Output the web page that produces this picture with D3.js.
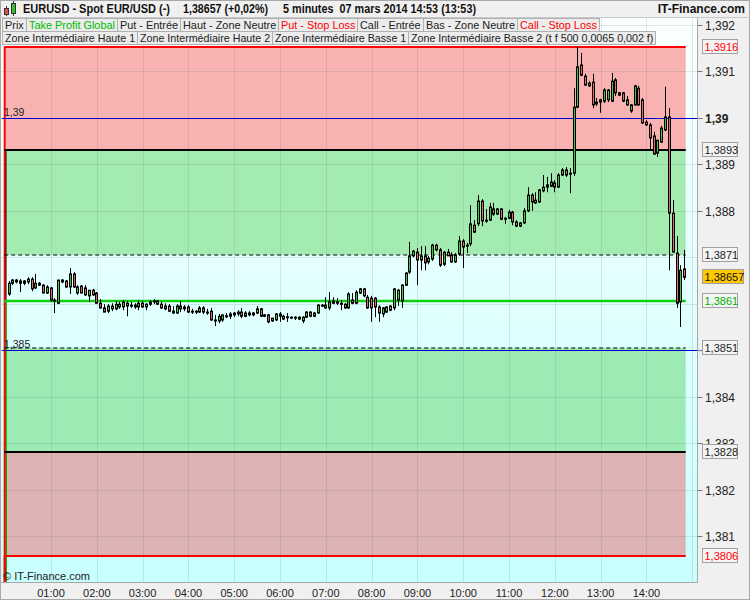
<!DOCTYPE html>
<html><head><meta charset="utf-8">
<script src="https://cdn.jsdelivr.net/npm/d3@7"></script>
<style>body{margin:0;background:#f0f0f0}svg{display:block;font-family:"Liberation Sans",Arial,sans-serif}</style>
</head><body><svg id="c" width="750" height="600"></svg>
<script>
// ---------------- DATA ----------------
const titleParts = ["EURUSD - Spot EUR/USD (-)", "1,38657 (+0,02%)", "5 minutes  07 mars 2014 14:53 (13:53)", "IT-Finance.com"];
const legendRow1 = ["Prix","Take Profit Global","Put - Entrée","Haut - Zone Neutre","Put - Stop Loss","Call - Entrée","Bas - Zone Neutre","Call - Stop Loss"];
const legendRow2 = ["Zone Intermédiaire Haute 1","Zone Intermédiaire Haute 2","Zone Intermédiaire Basse 1","Zone Intermédiaire Basse 2 (t f 500 0,0065 0,002 f)"];
const hourLabels = ["01:00","02:00","03:00","04:00","05:00","06:00","07:00","08:00","09:00","10:00","11:00","12:00","13:00","14:00"];
const yTicks = [1.392,1.391,1.390,1.389,1.388,1.387,1.386,1.385,1.384,1.383,1.382,1.381];
const yTickLabels = ["1,392","1,391","1,39","1,389","1,388","1,387","1,386","1,385","1,384","1,383","1,382","1,381"];
const yTickShown = [true,true,true,true,true,false,false,false,true,true,true,true];
const levelValues = [1.39153, 1.3893, 1.38705, 1.38605, 1.38505, 1.3828, 1.38058];
const levelLabels = ["1,3916","1,3893","1,3871","1,3861","1,3851","1,3828","1,3806"];
const refLines = [1.39, 1.385];
const refLabels = ["1,39","1,385"];
const lastPrice = 1.38657;
const lastLabel = "1,38657";
const barMinutes = 5;
const open = [1.38621,1.38644,1.38651,1.38649,1.38644,1.38647,1.38653,1.38634,1.38644,1.38640,
1.38623,1.38634,1.38606,1.38601,1.38647,1.38649,1.38636,1.38664,1.38623,1.38638,
1.38634,1.38617,1.38629,1.38623,1.38601,1.38591,1.38584,1.38595,1.38589,1.38599,
1.38593,1.38601,1.38595,1.38597,1.38593,1.38601,1.38593,1.38599,1.38604,1.38606,
1.38599,1.38595,1.38595,1.38584,1.38580,1.38595,1.38589,1.38593,1.38584,1.38582,
1.38582,1.38591,1.38582,1.38584,1.38565,1.38563,1.38565,1.38573,1.38573,1.38576,
1.38578,1.38582,1.38573,1.38580,1.38576,1.38580,1.38589,1.38576,1.38576,1.38563,
1.38565,1.38578,1.38573,1.38571,1.38571,1.38569,1.38571,1.38563,1.38571,1.38582,
1.38573,1.38580,1.38597,1.38597,1.38591,1.38606,1.38604,1.38601,1.38599,1.38591,
1.38608,1.38601,1.38623,1.38632,1.38614,1.38612,1.38612,1.38593,1.38578,1.38582,
1.38595,1.38591,1.38608,1.38606,1.38640,1.38668,1.38703,1.38711,1.38694,1.38703,
1.38690,1.38696,1.38726,1.38716,1.38685,1.38711,1.38705,1.38690,1.38707,1.38735,
1.38726,1.38729,1.38769,1.38772,1.38821,1.38780,1.38780,1.38804,1.38793,1.38804,
1.38784,1.38784,1.38797,1.38776,1.38767,1.38774,1.38800,1.38834,1.38817,1.38819,
1.38843,1.38851,1.38853,1.38860,1.38851,1.38877,1.38888,1.38879,1.38881,1.39023,
1.39114,1.39090,1.39069,1.39077,1.39034,1.39034,1.39036,1.39039,1.39036,1.39082,
1.39054,1.39054,1.39028,1.39015,1.39028,1.39064,1.39039,1.38991,1.38985,1.38961,
1.38924,1.38948,1.38974,1.39002,1.38795,1.38709,1.38604,1.38675];
const high = [1.38649,1.38653,1.38653,1.38653,1.38651,1.38657,1.38657,1.38664,1.38647,1.38642,
1.38640,1.38636,1.38612,1.38651,1.38653,1.38651,1.38677,1.38668,1.38640,1.38640,
1.38640,1.38629,1.38632,1.38625,1.38610,1.38599,1.38599,1.38601,1.38606,1.38604,
1.38608,1.38606,1.38604,1.38601,1.38608,1.38606,1.38601,1.38608,1.38610,1.38608,
1.38604,1.38601,1.38599,1.38595,1.38599,1.38606,1.38597,1.38597,1.38589,1.38586,
1.38595,1.38595,1.38589,1.38591,1.38576,1.38578,1.38576,1.38580,1.38582,1.38582,
1.38586,1.38591,1.38584,1.38584,1.38582,1.38595,1.38591,1.38578,1.38578,1.38569,
1.38580,1.38582,1.38576,1.38580,1.38573,1.38573,1.38573,1.38573,1.38584,1.38584,
1.38582,1.38599,1.38599,1.38614,1.38625,1.38614,1.38612,1.38608,1.38601,1.38625,
1.38623,1.38629,1.38634,1.38634,1.38619,1.38617,1.38614,1.38597,1.38593,1.38595,
1.38597,1.38634,1.38632,1.38642,1.38668,1.38733,1.38716,1.38720,1.38724,1.38724,
1.38703,1.38729,1.38729,1.38720,1.38713,1.38718,1.38711,1.38709,1.38746,1.38739,
1.38731,1.38812,1.38780,1.38834,1.38825,1.38804,1.38817,1.38817,1.38806,1.38806,
1.38787,1.38802,1.38800,1.38780,1.38776,1.38806,1.38851,1.38838,1.38840,1.38847,
1.38877,1.38873,1.38881,1.38866,1.38881,1.38892,1.38894,1.38892,1.39064,1.39153,
1.39140,1.39095,1.39079,1.39095,1.39043,1.39041,1.39064,1.39062,1.39097,1.39086,
1.39056,1.39056,1.39047,1.39030,1.39071,1.39069,1.39043,1.38995,1.38989,1.38970,
1.38931,1.38983,1.39067,1.39021,1.38823,1.38746,1.38683,1.38716];
const low = [1.38617,1.38640,1.38644,1.38625,1.38640,1.38642,1.38627,1.38632,1.38638,1.38623,
1.38621,1.38604,1.38580,1.38599,1.38644,1.38634,1.38621,1.38634,1.38619,1.38623,
1.38617,1.38604,1.38617,1.38601,1.38589,1.38582,1.38580,1.38584,1.38586,1.38589,
1.38586,1.38573,1.38591,1.38589,1.38586,1.38591,1.38586,1.38595,1.38599,1.38597,
1.38589,1.38586,1.38582,1.38578,1.38578,1.38582,1.38584,1.38580,1.38578,1.38578,
1.38580,1.38578,1.38576,1.38563,1.38552,1.38558,1.38561,1.38569,1.38567,1.38571,
1.38573,1.38569,1.38571,1.38573,1.38573,1.38578,1.38571,1.38571,1.38558,1.38561,
1.38563,1.38561,1.38565,1.38561,1.38567,1.38565,1.38565,1.38558,1.38569,1.38571,
1.38571,1.38578,1.38593,1.38589,1.38586,1.38599,1.38597,1.38586,1.38589,1.38589,
1.38599,1.38599,1.38621,1.38614,1.38589,1.38561,1.38571,1.38561,1.38571,1.38580,
1.38584,1.38586,1.38595,1.38591,1.38638,1.38664,1.38700,1.38640,1.38672,1.38672,
1.38685,1.38692,1.38713,1.38679,1.38681,1.38703,1.38688,1.38688,1.38703,1.38677,
1.38709,1.38724,1.38752,1.38767,1.38767,1.38774,1.38778,1.38789,1.38791,1.38780,
1.38772,1.38782,1.38769,1.38765,1.38765,1.38772,1.38797,1.38800,1.38815,1.38817,
1.38840,1.38840,1.38851,1.38840,1.38849,1.38875,1.38873,1.38838,1.38875,1.39021,
1.39090,1.39069,1.39067,1.39021,1.39026,1.39011,1.39032,1.39034,1.39034,1.39047,
1.39047,1.39034,1.39026,1.39011,1.39026,1.39026,1.38987,1.38983,1.38931,1.38922,
1.38916,1.38946,1.38972,1.38672,1.38711,1.38591,1.38550,1.38651];
const close = [1.38644,1.38651,1.38647,1.38644,1.38649,1.38653,1.38632,1.38644,1.38640,1.38623,
1.38636,1.38608,1.38608,1.38651,1.38651,1.38636,1.38664,1.38636,1.38636,1.38623,
1.38619,1.38629,1.38619,1.38601,1.38591,1.38582,1.38595,1.38589,1.38599,1.38593,
1.38604,1.38595,1.38597,1.38593,1.38601,1.38593,1.38599,1.38604,1.38606,1.38599,
1.38591,1.38589,1.38584,1.38580,1.38595,1.38589,1.38593,1.38582,1.38582,1.38584,
1.38591,1.38582,1.38580,1.38565,1.38563,1.38573,1.38576,1.38574,1.38578,1.38580,
1.38582,1.38573,1.38580,1.38576,1.38580,1.38589,1.38573,1.38573,1.38561,1.38569,
1.38578,1.38573,1.38567,1.38572,1.38569,1.38571,1.38567,1.38571,1.38582,1.38573,
1.38580,1.38597,1.38595,1.38591,1.38604,1.38601,1.38601,1.38599,1.38591,1.38621,
1.38601,1.38625,1.38632,1.38617,1.38591,1.38591,1.38593,1.38580,1.38591,1.38593,
1.38586,1.38632,1.38629,1.38640,1.38666,1.38703,1.38713,1.38694,1.38703,1.38688,
1.38698,1.38726,1.38716,1.38683,1.38711,1.38703,1.38690,1.38705,1.38735,1.38722,
1.38724,1.38772,1.38754,1.38821,1.38778,1.38778,1.38808,1.38793,1.38804,1.38782,
1.38782,1.38797,1.38776,1.38767,1.38774,1.38800,1.38834,1.38819,1.38823,1.38845,
1.38851,1.38856,1.38862,1.38851,1.38877,1.38888,1.38877,1.38881,1.39023,1.39110,
1.39092,1.39071,1.39075,1.39028,1.39030,1.39039,1.39060,1.39060,1.39079,1.39054,
1.39049,1.39036,1.39039,1.39028,1.39069,1.39028,1.38989,1.38985,1.38957,1.38922,
1.38952,1.38978,1.39002,1.38795,1.38711,1.38601,1.38672,1.38657];

// ---------------- LAYOUT ----------------
const svg = d3.select("#c");
const P = {l:1.5, r:697.5, t:17.5, b:582.5};
const x = d3.scaleLinear().domain([0, 900]).range([5.2, 692.2]);   // minutes since 00:00
const y = d3.scaleLinear().domain([1.381, 1.392]).range([536, 25]);
const bars = open.map((o,i)=>({t:i*barMinutes+4.5, o, h:high[i], l:low[i], c:close[i]}));
const lastX = x(bars[bars.length-1].t) + 1.5;

const defs = svg.append("defs");
const grad = defs.append("linearGradient").attr("id","bg").attr("x1",0).attr("y1",0).attr("x2",0).attr("y2",1);
grad.append("stop").attr("offset","0%").attr("stop-color","#fbffff");
grad.append("stop").attr("offset","100%").attr("stop-color","#c8ffff");
defs.append("clipPath").attr("id","pc").append("rect").attr("x",P.l).attr("y",P.t).attr("width",P.r-P.l).attr("height",P.b-P.t);

// outer frame
svg.append("rect").attr("x",0.5).attr("y",0.5).attr("width",749).attr("height",599).attr("fill","#f0f0f0").attr("stroke","#a8a8a8");
svg.append("rect").attr("x",P.l).attr("y",P.t).attr("width",P.r-P.l).attr("height",P.b-P.t).attr("fill","url(#bg)");

const g = svg.append("g").attr("clip-path","url(#pc)");

// zones between consecutive levels
const zoneFills = ["#f8b2b2","#a4ebb2",null,null,"#9cebb4","#ddb2b2"];
for (let k=0;k<levelValues.length-1;k++){
  if (!zoneFills[k]) continue;
  g.append("rect").attr("x",x(0)).attr("width",lastX-x(0))
    .attr("y",y(levelValues[k])).attr("height",y(levelValues[k+1])-y(levelValues[k]))
    .attr("fill",zoneFills[k]);
}

// grid
g.selectAll(".vg").data(d3.range(1,16)).enter().append("line")
  .attr("x1",d=>Math.round(x(d*60))+0.5).attr("x2",d=>Math.round(x(d*60))+0.5)
  .attr("y1",P.t).attr("y2",P.b).attr("stroke","rgba(90,110,110,0.17)");
g.selectAll(".hg").data(yTicks).enter().append("line")
  .attr("x1",P.l).attr("x2",P.r).attr("y1",d=>Math.round(y(d))+0.5).attr("y2",d=>Math.round(y(d))+0.5)
  .attr("stroke","rgba(90,110,110,0.17)");

// level lines
const lvlStyle = [
  {c:"#ff0000",w:2},{c:"#000",w:2},{c:"#000",w:1,d:"4,3"},{c:"#10d010",w:2.5},
  {c:"#000",w:1,d:"4,3"},{c:"#000",w:2},{c:"#ff0000",w:2}];
[1,5,3,0,6].forEach(k=>{
  const s = lvlStyle[k];
  const xx = x(0)-0.5+(k===0||k===6?0:0.8);
  g.append("line").attr("x1",xx).attr("x2",xx)
   .attr("y1",y(levelValues[k])).attr("y2",P.b).attr("stroke",s.c).attr("stroke-width",s.w);
});
levelValues.forEach((v,k)=>{
  const s = lvlStyle[k];
  g.append("line").attr("x1",x(0)-1).attr("x2",lastX).attr("y1",Math.round(y(v))).attr("y2",Math.round(y(v)))
   .attr("stroke",s.c).attr("stroke-width",s.w).attr("stroke-dasharray",s.d||null);
});

// blue reference lines
refLines.forEach((v,k)=>{
  g.append("line").attr("x1",P.l).attr("x2",P.r).attr("y1",Math.round(y(v))+0.5).attr("y2",Math.round(y(v))+0.5)
   .attr("stroke","#0000cc").attr("stroke-width",1);
  svg.append("text").attr("x",4).attr("y",Math.round(y(v))-2).attr("font-size",10.5).attr("fill","#222").text(refLabels[k]);
});

// candles
const cg = g.append("g");
bars.forEach(b=>{
  const px = Math.round(x(b.t));
  cg.append("line").attr("x1",px+0.5).attr("x2",px+0.5).attr("y1",y(b.h)).attr("y2",y(b.l)).attr("stroke","#000").attr("stroke-width",1);
  const top = y(Math.max(b.o,b.c)), bot = y(Math.min(b.o,b.c));
  cg.append("rect").attr("x",px-0.5).attr("width",2).attr("y",top).attr("height",Math.max(1,bot-top))
    .attr("fill", b.c>=b.o ? "#3cc83c" : "#e06868").attr("stroke","#000").attr("stroke-width",1);
});

// plot border
svg.append("line").attr("x1",P.r).attr("x2",P.r).attr("y1",P.t).attr("y2",P.b).attr("stroke","#a8a8a8");
svg.append("line").attr("x1",0).attr("x2",P.r).attr("y1",P.b).attr("y2",P.b).attr("stroke","#a8a8a8");
svg.append("line").attr("x1",0).attr("x2",750).attr("y1",P.t).attr("y2",P.t).attr("stroke","#c8c8c8");

// copyright
svg.append("text").attr("x",3).attr("y",580).attr("font-size",11).attr("fill","#222").text("© IT-Finance.com");

// x axis labels
svg.selectAll(".xl").data(hourLabels).enter().append("text")
  .attr("x",(d,i)=>x((i+1)*60)).attr("y",597).attr("text-anchor","middle")
  .attr("font-size",11).attr("fill","#222").text(d=>d);

// y axis ticks & labels
yTicks.forEach((v,k)=>{
  const yy = Math.round(y(v))+0.5;
  if (v!==1.387 && v!==1.386)
    svg.append("line").attr("x1",P.r).attr("x2",P.r+5).attr("y1",yy).attr("y2",yy).attr("stroke","#777");
  if(!yTickShown[k]) return;
  svg.append("text").attr("x",705).attr("y",yy+4).attr("font-size",12)
    .attr("font-weight", v===1.39 ? "bold":"normal").attr("fill","#222").text(yTickLabels[k]);
});

// level label boxes
const lblColor = ["#ff0000","#222","#222","#00b000","#222","#222","#ff0000"];
function box(v, label, col, bg, w){
  const yy = Math.round(y(v));
  svg.append("rect").attr("x",702.5).attr("y",yy-7.5).attr("width",w).attr("height",14)
    .attr("fill",bg).attr("stroke","#a0a0a0");
  svg.append("text").attr("x",704.5).attr("y",yy+4).attr("font-size",11).attr("fill",col).text(label);
}
levelValues.forEach((v,k)=>box(v, levelLabels[k], lblColor[k], "#f4f4f4", 35));
box(lastPrice, lastLabel, "#111", "#ffc800", 41);

// title
const ic = svg.append("g");
ic.append("line").attr("x1",6.5).attr("x2",6.5).attr("y1",6).attr("y2",16).attr("stroke","#333");
ic.append("rect").attr("x",4.5).attr("y",8.5).attr("width",4).attr("height",6).attr("fill","#e05050").attr("stroke","#333");
ic.append("line").attr("x1",13.5).attr("x2",13.5).attr("y1",1).attr("y2",16).attr("stroke","#333");
ic.append("rect").attr("x",11.5).attr("y",3.5).attr("width",4).attr("height",10).attr("fill","#30c030").attr("stroke","#333");
const tx = [23, 183, 283], tw = [147, 85, 193];
titleParts.slice(0,3).forEach((t,i)=>svg.append("text").attr("x",tx[i]).attr("y",13).attr("font-size",12)
  .attr("font-weight","bold").attr("fill","#111").attr("textLength",tw[i]).attr("lengthAdjust","spacingAndGlyphs")
  .style("white-space","pre").text(t));
svg.append("text").attr("x",745).attr("y",13).attr("text-anchor","end").attr("font-size",12)
  .attr("font-weight","bold").attr("fill","#111").text(titleParts[3]);

// legend
const legColor = {"Take Profit Global":"#00bb00","Put - Stop Loss":"#ff0000","Call - Stop Loss":"#ff0000"};
function legendRow(items, y0, fs){
  let cx = 2.5;
  items.forEach(t=>{
    const gr = svg.append("g");
    const r = gr.append("rect").attr("y",y0).attr("height",13).attr("fill","#ececec").attr("stroke","#b0b0b0");
    const tt = gr.append("text").attr("x",cx+2.5).attr("y",y0+10.5).attr("font-size",fs).attr("fill",legColor[t]||"#222").text(t);
    const w = Math.round(tt.node().getComputedTextLength()+5);
    r.attr("x",cx).attr("width",w);
    cx += w;
  });
}
legendRow(legendRow1, 18.5, 10.9);
legendRow(legendRow2, 31.5, 10.7);
</script></body></html>
